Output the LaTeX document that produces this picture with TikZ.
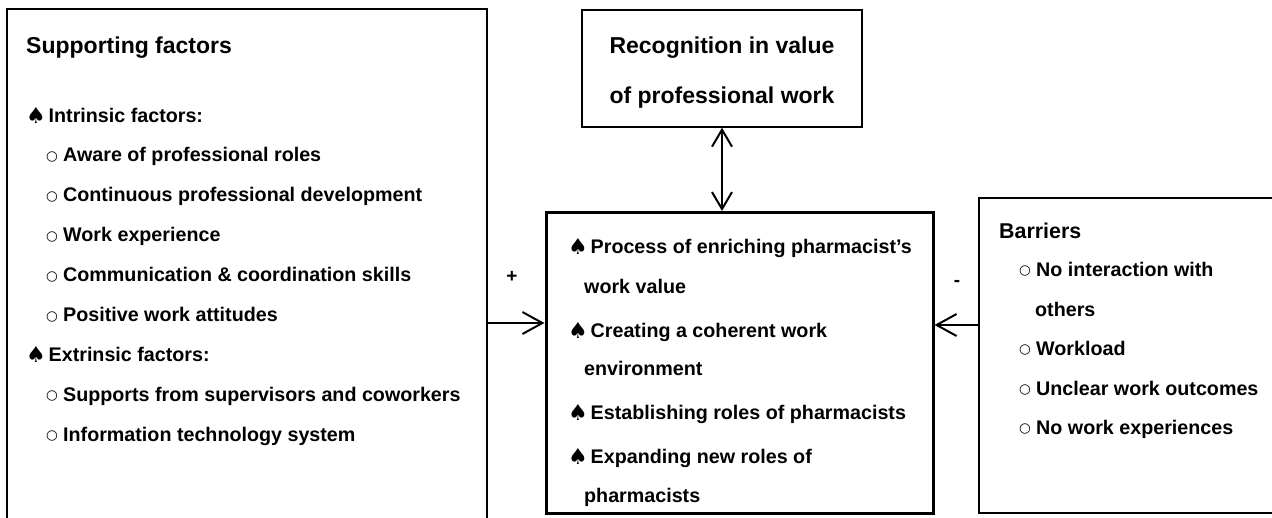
\documentclass[tikz,border=0pt]{standalone}
\usepackage{fontspec}
\setmainfont{Liberation Sans}
\newfontfamily\djv{DejaVu Sans}
\usetikzlibrary{arrows.meta}
\newcommand{\spd}{\makebox[22.5pt][l]{\raisebox{-1.5pt}{\djv\fontsize{22}{22}\selectfont ♠}}}
\newcommand{\bul}{\makebox[17pt][l]{\raisebox{1.5pt}{\djv\fontsize{13.5}{13.5}\selectfont ○}}}
\begin{document}
\begin{tikzpicture}[x=1pt,y=-1pt,
  box/.style={draw, inner sep=0pt, line width=1.4pt},
  tx/.style={anchor=base west, inner sep=0pt, font=\bfseries\fontsize{19.7}{24}\selectfont},
  ttl/.style={anchor=base west, inner sep=0pt, font=\bfseries\fontsize{23}{28}\selectfont},
  sgn/.style={inner sep=0pt, font=\bfseries\fontsize{19}{19}\selectfont},
  arr/.style={line width=2pt, -{Straight Barb[length=20pt, width=22pt, line width=2pt]}},
  arrb/.style={line width=2pt, {Straight Barb[length=17pt, width=20pt, line width=2pt]}-{Straight Barb[length=17pt, width=20pt, line width=2pt]}}]
\useasboundingbox (0,0) rectangle (1272,517);
\clip (0,0) rectangle (1272,517);
\fill[white] (0,0) rectangle (1272,517);
% boxes
\node[box, minimum width=480pt, minimum height=536pt] (sup) at (247,277) {};
\node[box, minimum width=280pt, minimum height=117pt] (rec) at (722,68.5) {};
\node[box, line width=3pt, minimum width=387pt, minimum height=301pt] (proc) at (739.5,363) {};
\node[box, minimum width=321pt, minimum height=315pt] (bar) at (1139.5,355.5) {};
% left box text
\node[ttl] (s0) at (26,53) {Supporting factors};
\node[tx] (s1) at (26,122) {\spd Intrinsic factors:};
\node[tx] (s2) at (46,161.9) {\bul Aware of professional roles};
\node[tx] (s3) at (46,201.8) {\bul Continuous professional development};
\node[tx] (s4) at (46,241.7) {\bul Work experience};
\node[tx] (s5) at (46,281.6) {\bul Communication \& coordination skills};
\node[tx] (s6) at (46,321.5) {\bul Positive work attitudes};
\node[tx] (s7) at (26,361.4) {\spd Extrinsic factors:};
\node[tx] (s8) at (46,401.3) {\bul Supports from supervisors and coworkers};
\node[tx] (s9) at (46,441.2) {\bul Information technology system};
% recognition
\node[anchor=base, inner sep=0pt, font=\bfseries\fontsize{23}{28}\selectfont] (r1) at (722,53) {Recognition in value};
\node[anchor=base, inner sep=0pt, font=\bfseries\fontsize{23}{28}\selectfont] (r2) at (722,103) {of professional work};
% center text
\node[tx] (p1) at (568,253) {\spd Process of enriching pharmacist’s};
\node[tx] (p2) at (584,293) {work value};
\node[tx] (p3) at (568,337) {\spd Creating a coherent work};
\node[tx] (p4) at (584,375) {environment};
\node[tx] (p5) at (568,419) {\spd Establishing roles of pharmacists};
\node[tx] (p6) at (568,463) {\spd Expanding new roles of};
\node[tx] (p7) at (584,502) {pharmacists};
% right box text
\node[anchor=base west, inner sep=0pt, font=\bfseries\fontsize{21.4}{26}\selectfont] (b0) at (999,238) {Barriers};
\node[tx] (b1) at (1019,276) {\bul No interaction with};
\node[tx] (b2) at (1035,316) {others};
\node[tx] (b3) at (1019,355) {\bul Workload};
\node[tx] (b4) at (1019,395) {\bul Unclear work outcomes};
\node[tx] (b5) at (1019,434) {\bul No work experiences};
% signs
\node[sgn] (plus) at (512,277) {+};
\node[sgn] (minus) at (957,283) {-};
% connectors
\draw[arr] (sup.east |- 0,323) -- (proc.west |- 0,323);
\draw[arr] (bar.west |- 0,325) -- (proc.east |- 0,325);
\draw[arrb] (rec.south) -- (rec.south |- proc.north);
\end{tikzpicture}
\end{document}
